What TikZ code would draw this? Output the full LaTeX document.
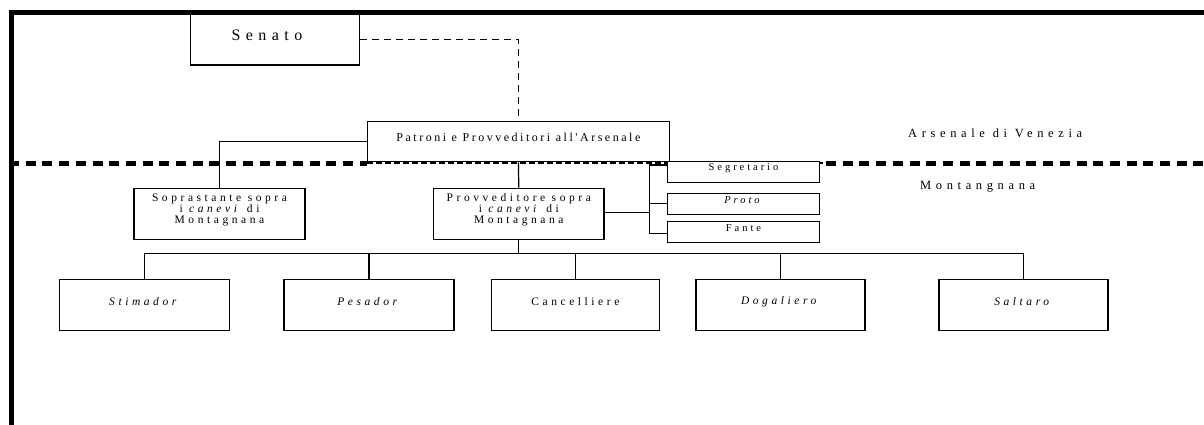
\documentclass[tikz,border=0pt]{standalone}
\usepackage{fontspec}
\setmainfont{Liberation Serif}
\newfontfamily\fSen{Liberation Serif}[LetterSpace=34,Ligatures=TeXOff]
\newfontfamily\fPat{Liberation Serif}[LetterSpace=21,Ligatures=TeXOff]
\newfontfamily\fReg{Liberation Serif}[LetterSpace=37,Ligatures=TeXOff]
\newfontfamily\fBox{Liberation Serif}[LetterSpace=31,Ligatures=TeXOff]
\newfontfamily\fSmall{Liberation Serif}[LetterSpace=28,Ligatures=TeXOff]
\begin{document}
\begin{tikzpicture}[x=1pt,y=-1pt,
  box/.style={draw, line width=1.2pt, fill=white, inner sep=0pt},
  conn/.style={line width=1.2pt},
  thinlink/.style={line width=1.1pt, dash pattern=on 7pt off 5pt},
  bigdash/.style={line width=5pt, dash pattern=on 10pt off 6.7pt},
  middash/.style={line width=1.6pt, dash pattern=on 6pt off 3pt},
  frameline/.style={line width=5pt},
  txt/.style={inner sep=0pt, align=center},
  sen/.style={txt, font=\fSen\fontsize{16}{18}\selectfont},
  pat/.style={txt, font=\fPat\fontsize{12}{14}\selectfont},
  reg/.style={txt, anchor=west, font=\fReg\fontsize{12.5}{14}\selectfont},
  bt/.style={txt, font=\fBox\fontsize{11.5}{10.8}\selectfont},
  st/.style={txt, font=\fSmall\fontsize{10.5}{12}\selectfont},
]
\useasboundingbox (0,0) rectangle (1204,425);

% frame
\coordinate (fBL) at (11.5,425);
\coordinate (fTL) at (11.5,12.5);
\coordinate (fTR) at (1204,12.5);
\draw[frameline] (fBL) -- (fTL) -- (fTR);
\draw[frameline] (9,12.5) -- (fTL);

% region divider
\coordinate (dL) at (9,163);
\coordinate (dA) at (367.4,163);
\coordinate (dB) at (826,163);
\coordinate (dR) at (1204,163);
\draw[bigdash] (dL) -- (dA);
\draw[bigdash] (dB) -- (dR);
\draw[middash] (dA) -- (dB);

% boxes
\node[box, minimum width=169pt, minimum height=51pt] (senato) at (275,39.5) {};
\node[box, minimum width=302pt, minimum height=40pt] (patroni) at (518.4,141.7) {};
\node[box, minimum width=171pt, minimum height=51pt] (sopra) at (219.5,213.8) {};
\node[box, minimum width=170.4pt, minimum height=51pt] (provv) at (518.8,213.8) {};
\node[box, minimum width=152pt, minimum height=21pt] (segr) at (743.5,172.2) {};
\node[box, minimum width=152pt, minimum height=21pt] (proto) at (743.5,203.7) {};
\node[box, minimum width=152pt, minimum height=21pt] (fante) at (743.5,232.2) {};
\node[box, minimum width=170.5pt, minimum height=51.4pt] (stim) at (144.6,305) {};
\node[box, minimum width=170pt, minimum height=51.4pt] (pes) at (369,305) {};
\node[box, minimum width=168.4pt, minimum height=51.4pt] (canc) at (575.4,305) {};
\node[box, minimum width=169pt, minimum height=51.4pt] (dog) at (780.5,305) {};
\node[box, minimum width=169pt, minimum height=51.4pt] (salt) at (1023.5,305) {};

% texts
\node[sen] (senatoT) at ([xshift=-8pt,yshift=4pt]senato.center) {Senato};
\node[pat] (patroniT) at ([yshift=4.5pt]patroni.center) {Patroni e Provveditori all'Arsenale};
\node[bt] (sopraT) at ([yshift=4pt]sopra.center) {Soprastante sopra\\i \textit{canevi} di\\Montagnana};
\node[bt] (provvT) at ([yshift=4pt]provv.center) {Provveditore sopra\\i \textit{canevi} di\\Montagnana};
\node[st] (segrT) at ([yshift=4pt]segr.center) {Segretario};
\node[st] (protoT) at ([yshift=4pt]proto.center) {\textit{Proto}};
\node[st] (fanteT) at ([yshift=4pt]fante.center) {Fante};
\node[bt] (stimT) at ([yshift=3pt]stim.center) {\textit{Stimador}};
\node[bt] (pesT) at ([yshift=3pt]pes.center) {\textit{Pesador}};
\node[bt] (cancT) at ([yshift=3pt]canc.center) {Cancelliere};
\node[bt] (dogT) at ([yshift=3pt]dog.center) {\textit{Dogaliero}};
\node[bt] (saltT) at ([yshift=3pt]salt.center) {\textit{Saltaro}};
\node[reg] (arsenale) at (908,133.3) {Arsenale di Venezia};
\node[reg] (montagnana) at (920,187) {Montangnana};

% connectors
\draw[thinlink] (senato.east) -- (senato.east -| patroni.north) -- (patroni.north);
\draw[conn] (patroni.west) -| (sopra.north);
\draw[conn] (patroni.south) -- (provv.north);

\coordinate (vb) at (649.3,212.7);
\coordinate (vbTop) at (649.3,165);
\coordinate (vbBot) at (649.3,233.3);
\draw[conn] (provv.east |- vb) -- (vb);
\draw[conn] (vbTop) -- (vbBot);
\draw[conn] (vbTop) -- (vbTop -| segr.west);
\draw[conn] (vbTop |- proto.west) -- (proto.west);
\draw[conn] (vbBot) -- (vbBot -| fante.west);

\coordinate (busL) at (144.6,253.3);
\draw[conn] (provv.south) -- (provv.south |- busL);
\draw[conn] (stim.north) -- (stim.north |- busL) -- (salt.north |- busL) -- (salt.north);
\draw[conn] (pes.north) -- (pes.north |- busL);
\draw[conn] (canc.north) -- (canc.north |- busL);
\draw[conn] (dog.north) -- (dog.north |- busL);
\end{tikzpicture}
\end{document}
